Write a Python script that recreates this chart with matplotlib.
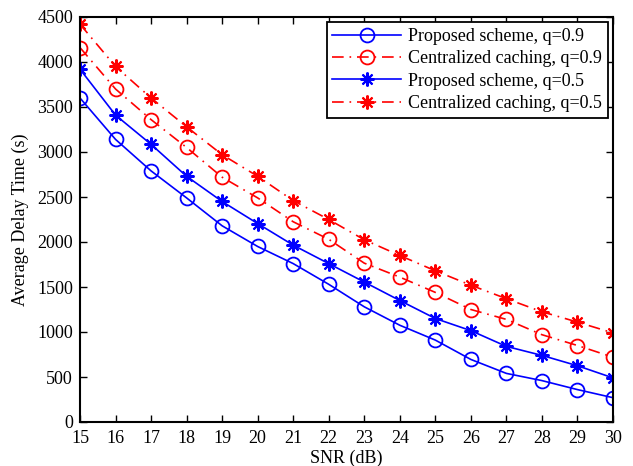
import matplotlib
matplotlib.use('Agg')
from matplotlib import pyplot as plt
import numpy as np

snr = np.arange(15, 31)
prop_q09 = [3600, 3140, 2790, 2490, 2180, 1950, 1760, 1530, 1280, 1075, 910, 695, 540, 460, 360, 270]
cent_q09 = [4160, 3700, 3360, 3050, 2720, 2490, 2225, 2030, 1765, 1610, 1440, 1250, 1140, 970, 850, 720]
prop_q05 = [3920, 3410, 3085, 2730, 2450, 2205, 1965, 1760, 1555, 1350, 1150, 1015, 840, 740, 625, 490]
cent_q05 = [4420, 3950, 3600, 3280, 2970, 2730, 2460, 2250, 2025, 1850, 1680, 1520, 1370, 1225, 1110, 990]

plt.rcParams['font.family'] = ['Liberation Serif', 'DejaVu Serif']
plt.rcParams['font.size'] = 13

fig = plt.figure(figsize=(6.33, 4.66), dpi=100)
ax = fig.add_axes([80 / 633, 44 / 466, 533 / 633, 405 / 466])

ast = (8, 2, 0)
dashdot = (0, (7, 3.5, 1, 3.5))

ax.plot(snr, prop_q09, '-o', color='blue', lw=1.2, ms=10, mfc='none', mew=1.3,
        label='Proposed scheme, q=0.9')
ax.plot(snr, cent_q09, color='red', ls=dashdot, marker='o', lw=1.2, ms=10, mfc='none', mew=1.3,
        label='Centralized caching, q=0.9')
ax.plot(snr, prop_q05, '-', marker=ast, color='blue', lw=1.2, ms=10, mew=1.5,
        label='Proposed scheme, q=0.5')
ax.plot(snr, cent_q05, color='red', ls=dashdot, marker=ast, lw=1.2, ms=10, mew=1.5,
        label='Centralized caching, q=0.5')

ax.set_xlim(15, 30)
ax.set_ylim(0, 4500)
ax.set_xticks(np.arange(15, 31))
ax.set_yticks(np.arange(0, 4501, 500))
ax.tick_params(direction='in', top=True, right=True, length=5, width=1, labelsize=13)
ax.tick_params(axis='x', pad=6)
ax.tick_params(axis='y', pad=5)
for s in ax.spines.values():
    s.set_linewidth(1.5)
ax.set_xlabel('SNR (dB)', labelpad=2)
ax.set_ylabel('Average Delay Time (s)', labelpad=6)

leg = ax.legend(loc='upper right', fancybox=False, edgecolor='black', framealpha=1,
                borderaxespad=0.3, handlelength=3.8, labelspacing=0.3, borderpad=0.3,
                handletextpad=0.4, fontsize=13)
leg.get_frame().set_linewidth(1.3)

fig.savefig('out.png', dpi=100)
